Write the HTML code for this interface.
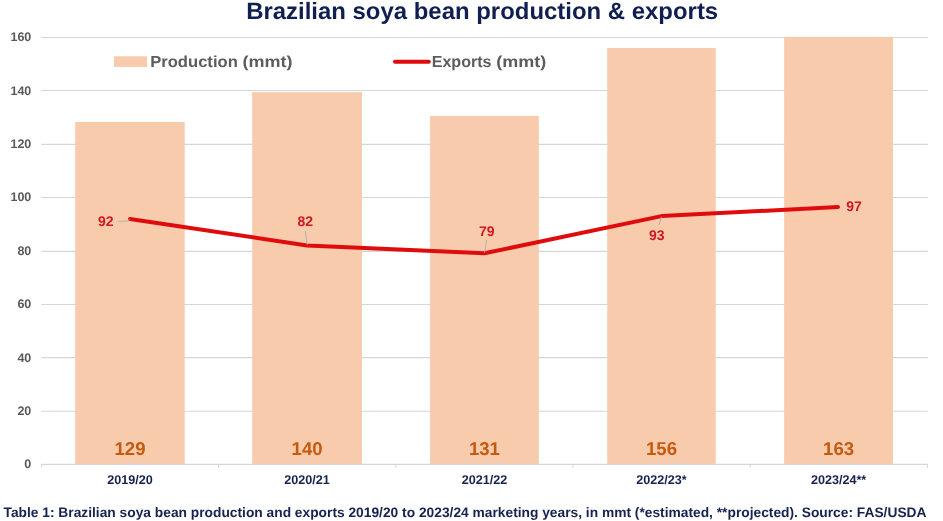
<!DOCTYPE html>
<html><head><meta charset="utf-8">
<style>
html,body{margin:0;padding:0;background:#fff;}
body{width:943px;height:521px;overflow:hidden;font-family:"Liberation Sans",sans-serif;}
svg{display:block;will-change:transform;transform:translateZ(0)}
text{font-family:"Liberation Sans",sans-serif;font-weight:bold;text-rendering:geometricPrecision}
</style></head><body>
<svg width="943" height="521" viewBox="0 0 943 521">
<rect width="943" height="521" fill="#fff"/>
<!-- gridlines -->
<g stroke="#d6d6d6" stroke-width="1.1" fill="none">
<line x1="41.3" x2="927.8" y1="37.5" y2="37.5"/>
<line x1="41.3" x2="927.8" y1="90.5" y2="90.5"/>
<line x1="41.3" x2="927.8" y1="144.4" y2="144.4"/>
<line x1="41.3" x2="927.8" y1="197.5" y2="197.5"/>
<line x1="41.3" x2="927.8" y1="251.4" y2="251.4"/>
<line x1="41.3" x2="927.8" y1="304.5" y2="304.5"/>
<line x1="41.3" x2="927.8" y1="357.6" y2="357.6"/>
<line x1="41.3" x2="927.8" y1="411.2" y2="411.2"/>
</g>
<!-- bars -->
<g fill="#f8cbad">
<rect x="75.2" y="122" width="109.5" height="342.4"/>
<rect x="252.2" y="92.1" width="109.8" height="372.3"/>
<rect x="430.1" y="116" width="108.7" height="348.4"/>
<rect x="607.2" y="48" width="108.5" height="416.4"/>
<rect x="784.1" y="36.8" width="108.9" height="427.6"/>
</g>
<!-- axis -->
<g stroke="#d6d6d6" stroke-width="1.1" fill="none">
<line x1="41.3" x2="927.8" y1="464.4" y2="464.4"/>
<line x1="41.7" x2="41.7" y1="464.4" y2="467.8"/>
<line x1="218.6" x2="218.6" y1="464.4" y2="467.8"/>
<line x1="395.8" x2="395.8" y1="464.4" y2="467.8"/>
<line x1="573" x2="573" y1="464.4" y2="467.8"/>
<line x1="750.2" x2="750.2" y1="464.4" y2="467.8"/>
<line x1="927.4" x2="927.4" y1="464.4" y2="467.8"/>
</g>
<!-- y labels -->
<g fill="#595959" font-size="12.5" text-anchor="end">
<text x="31.3" y="41">160</text>
<text x="31.3" y="95">140</text>
<text x="31.3" y="148">120</text>
<text x="31.3" y="201">100</text>
<text x="31.3" y="255">80</text>
<text x="31.3" y="308">60</text>
<text x="31.3" y="362">40</text>
<text x="31.3" y="415">20</text>
<text x="31.3" y="468">0</text>
</g>
<!-- x labels -->
<g fill="#16224f" font-size="12.6" text-anchor="middle">
<text x="130" y="484.4">2019/20</text>
<text x="307.1" y="484.4">2020/21</text>
<text x="484.4" y="484.4">2021/22</text>
<text x="661.5" y="484.4">2022/23*</text>
<text x="838.6" y="484.4">2023/24**</text>
</g>
<!-- bar labels -->
<g fill="#c55a11" font-size="18.6" text-anchor="middle">
<text x="130" y="455.4">129</text>
<text x="307.1" y="455.4">140</text>
<text x="484.4" y="455.4">131</text>
<text x="661.5" y="455.4">156</text>
<text x="838.6" y="455.4">163</text>
</g>
<!-- line -->
<polyline points="130,219 307.1,245.4 484.4,253.3 661.5,216.1 838,207" fill="none" stroke="#df0b0d" stroke-width="4" stroke-linecap="round" stroke-linejoin="round"/>
<!-- leaders -->
<g stroke="#a6a6a6" stroke-width="0.8" fill="none">
<polyline points="118.4,221.3 127,221.1 130,219.3"/>
<line x1="305.3" y1="231" x2="307.2" y2="245"/>
<line x1="486.6" y1="240" x2="484.6" y2="253"/>
<line x1="659" y1="225" x2="661.5" y2="216.5"/>
</g>
<!-- line labels -->
<g fill="#cf1820" font-size="14" text-anchor="middle">
<text x="105.7" y="226">92</text>
<text x="305.2" y="226">82</text>
<text x="486.7" y="236.1">79</text>
<text x="656.8" y="239.6">93</text>
<text x="854" y="211.4">97</text>
</g>
<!-- legend -->
<rect x="114" y="56.3" width="33" height="10.6" fill="#f8cbad"/>
<text x="150.2" y="66.7" font-size="16" fill="#5c5c5c" textLength="87.6" lengthAdjust="spacingAndGlyphs">Production</text>
<text x="242.6" y="66.7" font-size="16" fill="#5c5c5c" textLength="50" lengthAdjust="spacingAndGlyphs">(mmt)</text>
<line x1="395" x2="428.8" y1="61.8" y2="61.8" stroke="#df0b0d" stroke-width="4" stroke-linecap="round"/>
<text x="431.7" y="66.7" font-size="16" fill="#5c5c5c" textLength="59.8" lengthAdjust="spacingAndGlyphs">Exports</text>
<text x="496.2" y="66.7" font-size="16" fill="#5c5c5c" textLength="50" lengthAdjust="spacingAndGlyphs">(mmt)</text>
<!-- title -->
<text x="482.2" y="19.2" font-size="23.6" fill="#101e50" text-anchor="middle" textLength="472" lengthAdjust="spacingAndGlyphs">Brazilian soya bean production &amp; exports</text>
<!-- caption -->
<text x="3.5" y="516.6" font-size="13.7" fill="#16224f" textLength="923" lengthAdjust="spacingAndGlyphs">Table 1: Brazilian soya bean production and exports 2019/20 to 2023/24 marketing years, in mmt (*estimated, **projected). Source: FAS/USDA</text>
</svg>
</body></html>
